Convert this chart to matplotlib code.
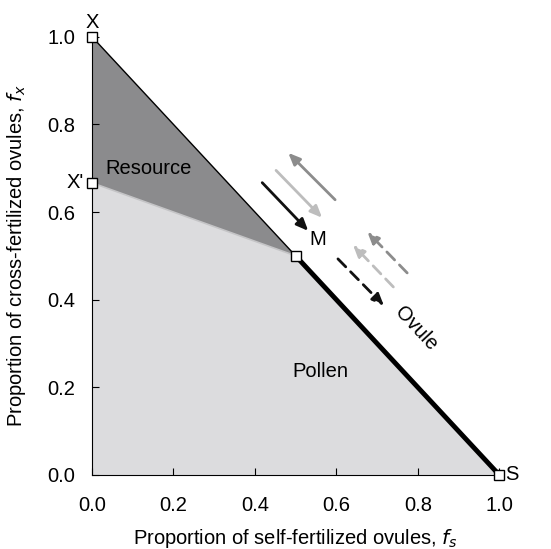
import matplotlib
matplotlib.use("Agg")
import matplotlib.pyplot as plt
import numpy as np

plt.rcParams['font.family'] = ['Liberation Sans', 'DejaVu Sans']

# Key points
X = (0.0, 1.0)
Xp = (0.0, 2/3)
M = (0.5, 0.5)
S = (1.0, 0.0)

ticks = [0.0, 0.2, 0.4, 0.6, 0.8, 1.0]
tick_labels = ["0.0", "0.2", "0.4", "0.6", "0.8", "1.0"]

# arrows: (tail, head, color, dashed)
arrows = [
    ((0.418, 0.667), (0.531, 0.557), "#111111", False),
    ((0.452, 0.695), (0.565, 0.587), "#bdbdbd", False),
    ((0.597, 0.628), (0.482, 0.735), "#8c8c8c", False),
    ((0.604, 0.493), (0.717, 0.386), "#111111", True),
    ((0.740, 0.429), (0.641, 0.525), "#bdbdbd", True),
    ((0.774, 0.461), (0.676, 0.555), "#8c8c8c", True),
]

fig = plt.figure(figsize=(5.51, 5.49), dpi=100)
ax = fig.add_axes([0.167, 0.135, 0.739, 0.798])

# Regions
ax.fill([X[0], M[0], Xp[0]], [X[1], M[1], Xp[1]], color="#8b8b8d", lw=0)
ax.fill([Xp[0], M[0], S[0], 0.0], [Xp[1], M[1], S[1], 0.0], color="#dcdcde", lw=0)
ax.plot([Xp[0], M[0]], [Xp[1], M[1]], color="#c4c4c6", lw=1.2)
ax.plot([X[0], M[0]], [X[1], M[1]], color="black", lw=1.0)
ax.plot([M[0], S[0]], [M[1], S[1]], color="black", lw=3.5, solid_capstyle="butt")

for (t, h, c, d) in arrows:
    ax.annotate("", xy=h, xytext=t,
                arrowprops=dict(arrowstyle="-|>,head_length=0.7,head_width=0.3",
                                color=c, lw=2.0,
                                linestyle=(0, (4, 2.5)) if d else "-",
                                shrinkA=0, shrinkB=0))

# markers
px = [X[0], Xp[0], M[0], S[0]]
py = [X[1], Xp[1], M[1], S[1]]
ax.plot(px, py, ls="none", marker="s", ms=6.5, mfc="white", mec="black", mew=1.0,
        clip_on=False, zorder=5)

fs = 14.5
ax.text(0.0, 1.012, "X", ha="center", va="bottom", fontsize=fs)
ax.text(-0.02, Xp[1], "X'", ha="right", va="center", fontsize=fs)
ax.text(0.535, 0.515, "M", ha="left", va="bottom", fontsize=fs)
ax.text(1.015, 0.0, "S", ha="left", va="center", fontsize=fs)
ax.text(0.033, 0.70, "Resource", ha="left", va="center", fontsize=fs)
ax.text(0.56, 0.235, "Pollen", ha="center", va="center", fontsize=fs)
ax.text(0.795, 0.335, "Ovule", ha="center", va="center", fontsize=fs, rotation=-47)

ax.set_xlim(0, 1)
ax.set_ylim(0, 1)
ax.set_xticks(ticks)
ax.set_xticklabels(tick_labels)
ax.set_yticks(ticks)
ax.set_yticklabels(tick_labels)
ax.tick_params(direction="in", length=5, labelsize=fs)
ax.tick_params(axis="x", pad=15)
ax.tick_params(axis="y", pad=12)
for s in ["top", "right"]:
    ax.spines[s].set_visible(False)

ax.set_xlabel("Proportion of self-fertilized ovules, $f_s$", fontsize=14.5, labelpad=8.5)
ax.set_ylabel("Proportion of cross-fertilized ovules, $f_x$", fontsize=14.5, labelpad=14)

fig.savefig("out.png", dpi=100)
